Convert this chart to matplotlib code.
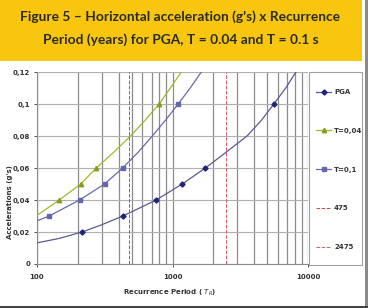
import matplotlib.pyplot as plt
from matplotlib.patches import Rectangle

# values (period in years, acceleration in g)
pga_curve_t = [100, 146, 215, 300, 431, 757, 1180, 1750, 2500, 3550, 4550, 5600, 6850, 8150]
pga_curve_a = [0.0132, 0.016, 0.02, 0.0245, 0.03, 0.04, 0.05, 0.06, 0.07, 0.08, 0.09, 0.10, 0.11, 0.12]
pga_mark_t = [215, 431, 757, 1180, 1750, 5600]
pga_mark_a = [0.02, 0.03, 0.04, 0.05, 0.06, 0.10]

t004_curve_t = [100, 146, 210, 274, 370, 490, 630, 797, 965, 1160]
t004_curve_a = [0.0304, 0.04, 0.05, 0.06, 0.07, 0.08, 0.09, 0.10, 0.11, 0.12]
t004_mark_t = [146, 210, 274, 797]
t004_mark_a = [0.04, 0.05, 0.06, 0.10]

t01_curve_t = [100, 123, 206, 315, 429, 560, 710, 890, 1102, 1350, 1632]
t01_curve_a = [0.027, 0.03, 0.04, 0.05, 0.06, 0.07, 0.08, 0.09, 0.10, 0.11, 0.12]
t01_mark_t = [123, 206, 315, 429, 1102]
t01_mark_a = [0.03, 0.04, 0.05, 0.06, 0.10]

r475 = 475
r2475 = 2475
y_ticks = [0, 0.02, 0.04, 0.06, 0.08, 0.1, 0.12]
y_labels = ['0', '0,02', '0,04', '0,06', '0,08', '0,1', '0,12']
x_ticks = [100, 1000, 10000]
x_labels = ['100', '1000', '10000']

W, H = 368, 308
fig = plt.figure(figsize=(W / 100, H / 100), dpi=100)
fig.patch.set_facecolor('white')

# yellow title band and borders
fig.patches.append(Rectangle((0, 1 - 61 / H), 362 / W, 61 / H, transform=fig.transFigure,
                             facecolor='#F8C60F', edgecolor='none', zorder=0))
fig.patches.append(Rectangle((365 / W, 0), 3 / W, 1, transform=fig.transFigure,
                             facecolor='#8a8a8a', edgecolor='none', zorder=0))
fig.patches.append(Rectangle((0, 0), 1, 2 / H, transform=fig.transFigure,
                             facecolor='#444444', edgecolor='none', zorder=0))
fig.text(0.49, 1 - 17 / H, "Figure 5 – Horizontal acceleration (g's) x Recurrence",
         ha='center', va='center', fontsize=9.9, fontweight='bold', color='#2b2b2b',
         family='Lato')
fig.text(0.49, 1 - 40 / H, "Period (years) for PGA, T = 0.04 and T = 0.1 s",
         ha='center', va='center', fontsize=9.9, fontweight='bold', color='#2b2b2b',
         family='Lato')

ax = fig.add_axes([37 / W, 1 - 264 / H, (308 - 37) / W, (264 - 72) / H])
ax.set_xscale('log')
ax.set_xlim(100, 10000)
ax.set_ylim(0, 0.12)

ax.grid(True, which='both', axis='x', color='#8c8c8c', lw=0.9)
ax.grid(True, which='major', axis='y', color='#b0b0b0', lw=0.8)
ax.set_axisbelow(True)

pga_col = '#5b5b8e'
ax.plot(pga_curve_t, pga_curve_a, color=pga_col, lw=0.9, zorder=3)
ax.plot(pga_mark_t, pga_mark_a, 'D', color='#222277', ms=2.6, zorder=4)
ax.plot(t004_curve_t, t004_curve_a, color='#a6b52e', lw=0.9, zorder=3)
ax.plot(t004_mark_t, t004_mark_a, '^', color='#8a9a22', ms=3.2, zorder=4)
ax.plot(t01_curve_t, t01_curve_a, color='#6a6aa2', lw=0.9, zorder=3)
ax.plot(t01_mark_t, t01_mark_a, 's', color='#6666b0', ms=3.2, zorder=4)
ax.plot([r475, r475], [0, 0.12], '--', color='#c84a4a', lw=0.7, zorder=3)
ax.plot([r2475, r2475], [0, 0.12], '--', color='#d05a6a', lw=0.7, zorder=3)

ax.set_yticks(y_ticks)
ax.set_yticklabels(y_labels)
ax.set_xticks(x_ticks)
ax.set_xticklabels(x_labels)
ax.tick_params(axis='both', labelsize=5, colors='#333333', length=2, width=0.6, pad=3)
ax.tick_params(axis='x', which='minor', length=0)
ax.tick_params(axis='x', pad=5)
for lab in ax.get_xticklabels() + ax.get_yticklabels():
    lab.set_fontweight('bold')
for s in ['top', 'right']:
    ax.spines[s].set_visible(False)
for s in ['left', 'bottom']:
    ax.spines[s].set_color('#8c8c8c')
    ax.spines[s].set_linewidth(0.8)

fig.text(10 / W, 1 - 202 / H, "Accelerations (g's)", rotation=90, ha='center', va='center',
         fontsize=5, fontweight='bold', color='#333333')
fig.text(170 / W, 1 - 293 / H, "Recurrence Period ( $T_R$)", ha='center', va='center',
         fontsize=5, fontweight='bold', color='#333333')

# legend
fig.patches.append(Rectangle((309 / W, 1 - 265 / H), 53 / W, 193 / H, transform=fig.transFigure,
                             facecolor='white', edgecolor='#a0a0a0', lw=0.8, zorder=1))
h1, = ax.plot([], [], '-D', color=pga_col, mfc='#222277', mec='#222277', ms=2.6, lw=0.9)
h2, = ax.plot([], [], '-^', color='#a6b52e', mfc='#8a9a22', mec='#8a9a22', ms=3.2, lw=0.9)
h3, = ax.plot([], [], '-s', color='#6a6aa2', mfc='#6666b0', mec='#6666b0', ms=3.2, lw=0.9)
h4, = ax.plot([], [], '--', color='#c84a4a', lw=0.7)
h5, = ax.plot([], [], '--', color='#d05a6a', lw=0.7)
leg = fig.legend([h1, h2, h3, h4, h5], ['PGA', 'T=0,04', 'T=0,1', '475', '2475'],
                 loc='upper left', bbox_to_anchor=(316 / W, 1 - 89 / H), frameon=False,
                 fontsize=5, labelspacing=4.72, handlelength=2.2, handletextpad=0.4,
                 borderpad=0, borderaxespad=0)
for t in leg.get_texts():
    t.set_color('#333333')
    t.set_fontweight('bold')

fig.savefig('out.png', dpi=100)
